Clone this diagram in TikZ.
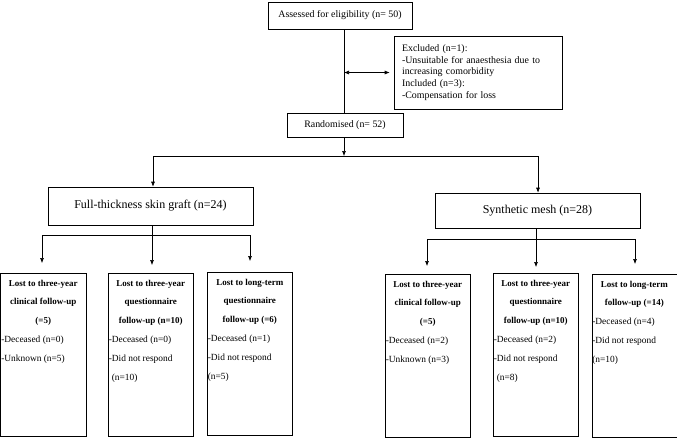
\documentclass[tikz,border=0pt]{standalone}
\usepackage{fontspec}
\setmainfont{Liberation Serif}
\usetikzlibrary{arrows.meta}
\newcommand{\lostbody}[2]{\parbox[t][162pt][t]{84pt}{\fontsize{9.4}{18.8}\selectfont\setlength{\parskip}{0pt}\vspace*{6pt}{\centering\fontsize{9}{18.8}\selectfont\bfseries #1\par}\raggedright #2}}
\begin{document}
\begin{tikzpicture}[x=1pt,y=-1pt,
  box/.style={draw, line width=0.6pt, inner sep=0pt},
  conn/.style={line width=0.6pt},
  arr/.style={conn, -{Latex[length=5pt,width=4pt]}},
  topfont/.style={font=\fontsize{9.9}{11.7}\selectfont},
  grpfont/.style={font=\fontsize{12}{14}\selectfont},
  lost/.style={box, anchor=north west, inner sep=0.5pt}
]
\useasboundingbox (0,0) rectangle (677,440);
% top
\node[box, topfont, minimum width=144pt, minimum height=27pt] (A) at (340,15.5) {Assessed for eligibility (n= 50)};
\node[box, topfont, minimum width=168pt, minimum height=73pt, text width=152pt, inner xsep=8pt, align=left] (E) at (478,72.5)
 {Excluded (n=1):\\-Unsuitable for anaesthesia due to\\increasing comorbidity\\Included (n=3):\\-Compensation for loss};
\node[box, topfont, minimum width=116pt, minimum height=24pt] (R) at (345,125) {Randomised (n= 52)};
\coordinate (vx) at (344,0);
\draw[conn] (A.south -| vx) -- (R.north -| vx);
\draw[conn, {Latex[length=5pt,width=4pt]}-{Latex[length=5pt,width=4pt]}, shorten >=4pt] (vx |- E.west) -- (E.west);
% groups
\node[box, grpfont, minimum width=205pt, minimum height=38pt] (FT) at (150.5,206) {Full-thickness skin graft (n=24)};
\node[box, grpfont, minimum width=205pt, minimum height=35pt] (SM) at (537.5,210.5) {Synthetic mesh (n=28)};
\coordinate (hj) at (344,156);
\coordinate (hl) at (153,156);
\coordinate (hr) at (538,156);
\draw[arr] (R.south -| vx) -- (hj);
\draw[conn] (hl) -- (hr);
\draw[arr] (hl) -- (hl |- FT.north);
\draw[arr] (hr) -- (hr |- SM.north);
% lost boxes
\node[lost] (b1) at (0.5,273) {\lostbody{Lost to three-year\\clinical follow-up\\(=5)}{-Deceased (n=0)\\-Unknown (n=5)}};
\node[lost] (b2) at (108,273) {\lostbody{Lost to three-year\\questionnaire\\follow-up (n=10)}{-Deceased (n=0)\\-Did not respond\\\hspace*{3pt}(n=10)}};
\node[lost] (b3) at (207,272) {\lostbody{Lost to long-term\\questionnaire\\follow-up (=6)}{-Deceased (n=1)\\-Did not respond\\(n=5)}};
\node[lost] (b4) at (385,274) {\lostbody{Lost to three-year\\clinical follow-up\\(=5)}{-Deceased (n=2)\\-Unknown (n=3)}};
\node[lost] (b5) at (493,273) {\lostbody{Lost to three-year\\questionnaire\\follow-up (n=10)}{-Deceased (n=2)\\-Did not respond\\\hspace*{3pt}(n=8)}};
\node[lost] (b6) at (591.5,274) {\lostbody{Lost to long-term\\follow-up (=14)}{-Deceased (n=4)\\-Did not respond\\(n=10)}};
% FT branches
\coordinate (fj) at (152,235);
\coordinate (fl) at (42,235);
\coordinate (fr) at (250,235);
\draw[conn] (FT.south -| fj) -- (fj);
\draw[conn] (fl) -- (fr);
\draw[arr, shorten >=10pt] (fl) -- (fl |- b1.north);
\draw[arr, shorten >=8pt] (fj) -- (fj |- b2.north);
\draw[arr, shorten >=11pt] (fr) -- (fr |- b3.north);
% SM branches
\coordinate (sj) at (536,239);
\coordinate (sl) at (427,239);
\coordinate (sr) at (635,239);
\draw[conn] (SM.south -| sj) -- (sj);
\draw[conn] (sl) -- (sr);
\draw[arr, shorten >=8pt] (sl) -- (sl |- b4.north);
\draw[arr, shorten >=6pt] (sj) -- (sj |- b5.north);
\draw[arr, shorten >=10pt] (sr) -- (sr |- b6.north);
\end{tikzpicture}
\end{document}
